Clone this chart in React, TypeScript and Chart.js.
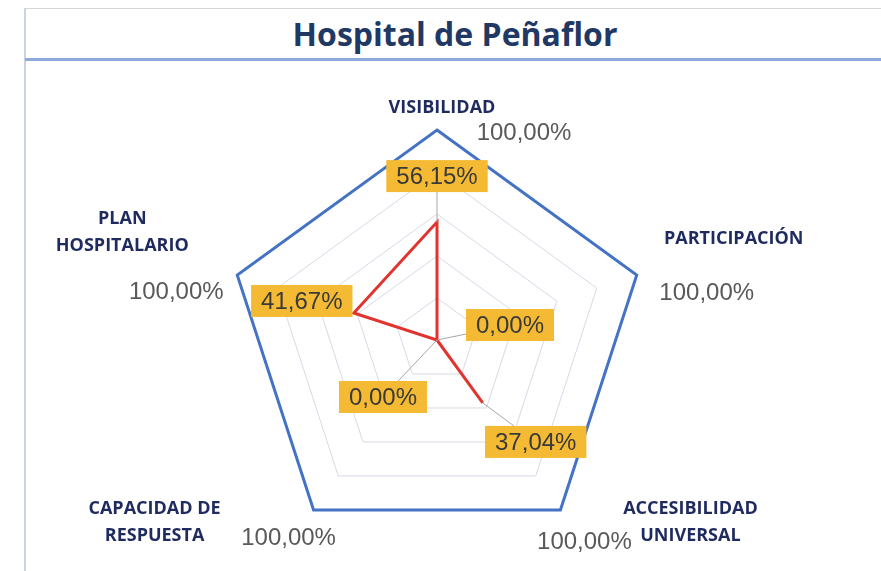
import React, { useEffect, useRef } from "react";
import { Chart, registerables } from "chart.js";

Chart.register(...registerables);

// ---- data ----
const chartTitle = "Hospital de Peñaflor";
const categories: string[][] = [
  ["VISIBILIDAD"],
  ["PARTICIPACIÓN"],
  ["ACCESIBILIDAD", "UNIVERSAL"],
  ["CAPACIDAD DE", "RESPUESTA"],
  ["PLAN", "HOSPITALARIO"],
];
const targetValues = [100, 100, 100, 100, 100];
const actualValues = [56.15, 0, 37.04, 0, 41.67];
const scaleMax = 100;
const scaleStep = 20;

// ---- label placement (relative to library-computed positions) ----
const categoryLabelOffsets = [
  [5, -22],
  [97, -36],
  [130, 12],
  [-159, 12],
  [-115, -43],
];
const targetLabelOffsets = [
  [87, 3],
  [70, 18],
  [24, 32],
  [-25, 28],
  [-61, 17],
];
const actualLabelOffsets = [
  [0, -46],
  [73, -15],
  [53, 39],
  [-54, 57],
  [-52, -12],
];

const fmt = (v: number) => v.toFixed(2).replace(".", ",") + "%";

const labelPlugin = {
  id: "customLabels",
  afterDatasetsDraw(chart: any) {
    const ctx: CanvasRenderingContext2D = chart.ctx;
    const scale = chart.scales.r;
    ctx.save();

    // category labels
    ctx.font = "bold 18px 'Open Sans'";
    ctx.fillStyle = "#1F2A5E";
    ctx.textAlign = "center";
    ctx.textBaseline = "middle";
    categories.forEach((lines, i) => {
      const p = scale.getPointPositionForValue(i, scaleMax);
      const [dx, dy] = categoryLabelOffsets[i];
      const lh = 27;
      const cy = p.y + dy;
      lines.forEach((ln, k) => {
        ctx.fillText(ln, p.x + dx, cy + (k - (lines.length - 1) / 2) * lh);
      });
    });

    // target labels (100,00%)
    const tMeta = chart.getDatasetMeta(1);
    ctx.font = "24px 'Liberation Sans', Arial";
    ctx.fillStyle = "#595959";
    tMeta.data.forEach((el: any, i: number) => {
      const [dx, dy] = targetLabelOffsets[i];
      ctx.fillText(fmt(targetValues[i]), el.x + dx, el.y + dy);
    });

    // actual labels with boxes and leader lines
    const aMeta = chart.getDatasetMeta(0);
    aMeta.data.forEach((el: any, i: number) => {
      const [dx, dy] = actualLabelOffsets[i];
      const text = fmt(actualValues[i]);
      ctx.font = "24px 'Liberation Sans', Arial";
      const w = ctx.measureText(text).width + 20;
      const h = 32;
      const cx = el.x + dx;
      const cy = el.y + dy;
      const x0 = cx - w / 2, x1 = cx + w / 2, y0 = cy - h / 2, y1 = cy + h / 2;
      const inside = el.x >= x0 && el.x <= x1 && el.y >= y0 && el.y <= y1;
      if (!inside) {
        let t = 1;
        const vx = cx - el.x, vy = cy - el.y;
        const cands: number[] = [];
        if (vx !== 0) cands.push((x0 - el.x) / vx, (x1 - el.x) / vx);
        if (vy !== 0) cands.push((y0 - el.y) / vy, (y1 - el.y) / vy);
        cands.forEach((c) => {
          if (c > 0 && c < t) {
            const px = el.x + vx * c, py = el.y + vy * c;
            if (px >= x0 - 0.01 && px <= x1 + 0.01 && py >= y0 - 0.01 && py <= y1 + 0.01) t = c;
          }
        });
        const ex = el.x + vx * t, ey = el.y + vy * t;
        if (Math.hypot(ex - el.x, ey - el.y) > 6) {
          ctx.strokeStyle = "#A6A6A6";
          ctx.lineWidth = 1;
          ctx.beginPath();
          ctx.moveTo(el.x, el.y);
          ctx.lineTo(ex, ey);
          ctx.stroke();
        }
      }
      ctx.fillStyle = "#F4BA33";
      ctx.fillRect(x0, y0, w, h);
      ctx.fillStyle = "#3A3A3A";
      ctx.fillText(text, cx, cy + 1);
    });

    ctx.restore();
  },
};

export default function App() {
  const canvasRef = useRef<HTMLCanvasElement | null>(null);

  useEffect(() => {
    if (!canvasRef.current) return;
    const chart = new Chart(canvasRef.current, {
      type: "radar",
      data: {
        labels: categories,
        datasets: [
          {
            label: "Resultado",
            data: actualValues,
            borderColor: "#E2342F",
            backgroundColor: "rgba(0,0,0,0)",
            borderWidth: 3,
            pointRadius: 0,
            fill: false,
          },
          {
            label: "Meta",
            data: targetValues,
            borderColor: "#4472C4",
            backgroundColor: "rgba(0,0,0,0)",
            borderWidth: 3,
            pointRadius: 0,
            fill: false,
          },
        ],
      },
      options: {
        animation: false,
        responsive: false,
        devicePixelRatio: 1,
        layout: { padding: { left: 227, top: 130, right: 234, bottom: 21 } },
        plugins: {
          legend: { display: false },
          tooltip: { enabled: false },
          title: { display: false },
        },
        scales: {
          r: {
            min: 0,
            max: scaleMax,
            ticks: { display: false, stepSize: scaleStep },
            grid: { color: "#D6DAE6", lineWidth: 1 },
            angleLines: { display: false },
            pointLabels: { display: false },
          },
        },
      },
      plugins: [labelPlugin],
    });
    return () => chart.destroy();
  }, []);

  return (
    <div
      style={{
        position: "absolute",
        left: 0,
        top: 0,
        width: 881,
        height: 571,
        background: "#FFFFFF",
        overflow: "hidden",
      }}
    >
      <div style={{ position: "absolute", left: 25, top: 8, width: 856, height: 1, background: "#D3D6DB" }} />
      <div style={{ position: "absolute", left: 24, top: 8, width: 2, height: 563, background: "#C9D3E3" }} />
      <div style={{ position: "absolute", left: 25, top: 58, width: 856, height: 3, background: "#8EA9DB" }} />
      <div
        style={{
          position: "absolute",
          left: 27,
          top: 18,
          width: 856,
          textAlign: "center",
          fontFamily: "'Open Sans', sans-serif",
          fontWeight: 700,
          fontSize: 32,
          lineHeight: "32px",
          color: "#1F3864",
        }}
      >
        {chartTitle}
      </div>
      <canvas
        ref={canvasRef}
        width={881}
        height={571}
        style={{ position: "absolute", left: 0, top: 0, width: 881, height: 571 }}
      />
    </div>
  );
}
